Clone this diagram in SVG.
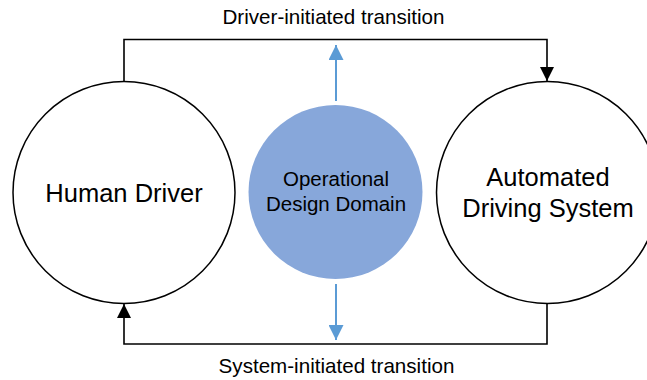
<svg xmlns="http://www.w3.org/2000/svg" width="647" height="380" viewBox="0 0 647 380">
<style>
.t{font-family:"Liberation Sans",Arial,sans-serif;fill:#000;text-anchor:middle}
.node{fill:#fff;stroke:#000;stroke-width:1.5}
.conn{fill:none;stroke:#000;stroke-width:1.6}
.blue{fill:none;stroke:#5B9BD5;stroke-width:2}
</style>
<defs>
<marker id="ah" markerWidth="14" markerHeight="14" viewBox="0 0 14 14" refX="14" refY="7" orient="auto" markerUnits="userSpaceOnUse">
<path d="M0,0 L14,7 L0,14 Z" fill="#000"/>
</marker>
<marker id="ab" markerWidth="15" markerHeight="15" viewBox="0 0 15 15" refX="15" refY="7.5" orient="auto" markerUnits="userSpaceOnUse">
<path d="M0,0 L15,7.5 L0,15 Z" fill="#5B9BD5"/>
</marker>
</defs>
<rect width="647" height="380" fill="#fff"/>
<g id="connectors">
<path class="conn" d="M124,82 V39.5 H547 V81" marker-end="url(#ah)"/>
<path class="conn" d="M547,303 V344 H124 V304" marker-end="url(#ah)"/>
<path class="blue" d="M336,101 V45" marker-end="url(#ab)"/>
<path class="blue" d="M336,284 V340" marker-end="url(#ab)"/>
</g>
<g id="human-driver">
<circle class="node" cx="124" cy="192.5" r="111"/>
<text class="t" x="124" y="201.5" font-size="25.5">Human Driver</text>
</g>
<g id="odd">
<circle cx="335.5" cy="192" r="87" fill="#87A7DA"/>
<text class="t" x="336" y="186" font-size="20.5">Operational</text>
<text class="t" x="336" y="211" font-size="20.5">Design Domain</text>
</g>
<g id="ads">
<circle class="node" cx="547.5" cy="192.5" r="111"/>
<text class="t" x="548" y="186" font-size="25.5">Automated</text>
<text class="t" x="548" y="216.5" font-size="25.5">Driving System</text>
</g>
<text class="t" x="333.5" y="24" font-size="20.6">Driver-initiated transition</text>
<text class="t" x="336.5" y="373" font-size="20.6">System-initiated transition</text>
</svg>
